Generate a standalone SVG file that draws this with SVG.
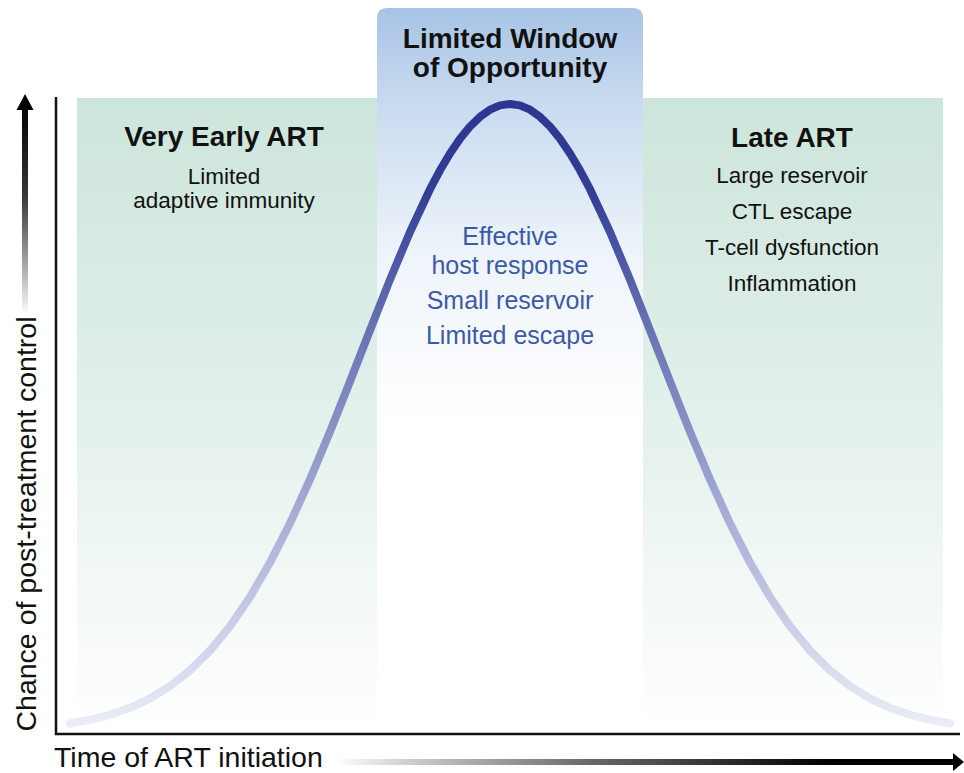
<svg xmlns="http://www.w3.org/2000/svg" width="964" height="773" viewBox="0 0 964 773">
  <defs>
    <linearGradient id="gGreen" x1="0" y1="98" x2="0" y2="731" gradientUnits="userSpaceOnUse">
      <stop offset="0" stop-color="#cce5db"/>
      <stop offset="0.5" stop-color="#e3f0eb"/>
      <stop offset="1" stop-color="#ffffff"/>
    </linearGradient>
    <linearGradient id="gBlue" x1="0" y1="8" x2="0" y2="420" gradientUnits="userSpaceOnUse">
      <stop offset="0" stop-color="#a7c3e5"/>
      <stop offset="0.25" stop-color="#cbdcf0"/>
      <stop offset="0.6" stop-color="#eef4fa"/>
      <stop offset="1" stop-color="#ffffff"/>
    </linearGradient>
    <linearGradient id="gCurve" x1="0" y1="100" x2="0" y2="730" gradientUnits="userSpaceOnUse">
      <stop offset="0" stop-color="#2b3690"/>
      <stop offset="0.15" stop-color="#323f96"/>
      <stop offset="0.35" stop-color="#6570b2"/>
      <stop offset="0.65" stop-color="#a5abd5"/>
      <stop offset="1" stop-color="#eceef7"/>
    </linearGradient>
    <linearGradient id="gYArrow" x1="0" y1="100" x2="0" y2="315" gradientUnits="userSpaceOnUse">
      <stop offset="0" stop-color="#000000"/>
      <stop offset="0.45" stop-color="#3a3735"/>
      <stop offset="0.8" stop-color="#b5b2b0"/>
      <stop offset="1" stop-color="#ffffff"/>
    </linearGradient>
    <linearGradient id="gXArrow" x1="335" y1="0" x2="955" y2="0" gradientUnits="userSpaceOnUse">
      <stop offset="0" stop-color="#ffffff"/>
      <stop offset="0.12" stop-color="#cfcccb"/>
      <stop offset="0.42" stop-color="#6a6562"/>
      <stop offset="0.8" stop-color="#000000"/>
      <stop offset="1" stop-color="#000000"/>
    </linearGradient>
    <style>
      .t { font-family: "Liberation Sans", Arial, Helvetica, sans-serif; fill: #111; text-anchor: middle; }
      .b { font-weight: bold; font-size: 28px; }
      .r { font-size: 22.5px; }
      .blue { fill: #3b5aa8; font-size: 25px; }
      .ax { font-family: "Liberation Sans", Arial, Helvetica, sans-serif; fill: #111; font-size: 28.5px; }
    </style>
  </defs>

  <rect width="964" height="773" fill="#ffffff"/>

  <g id="panel-early">
    <rect x="77" y="98" width="301" height="633" fill="url(#gGreen)"/>
    <text class="t b" x="224" y="146">Very Early ART</text>
    <text class="t r" x="224" y="184">Limited</text>
    <text class="t r" x="224" y="208">adaptive immunity</text>
  </g>

  <g id="panel-late">
    <rect x="642" y="98" width="301" height="633" fill="url(#gGreen)"/>
    <text class="t b" x="792" y="147">Late ART</text>
    <text class="t r" x="792" y="183">Large reservoir</text>
    <text class="t r" x="792" y="219">CTL escape</text>
    <text class="t r" x="792" y="255">T-cell dysfunction</text>
    <text class="t r" x="792" y="291">Inflammation</text>
  </g>

  <g id="panel-window">
    <path d="M377,731 L377,18 Q377,8 387,8 L633,8 Q643,8 643,18 L643,731 Z" fill="url(#gBlue)"/>
    <text class="t b" x="510" y="48">Limited Window</text>
    <text class="t b" x="510" y="77">of Opportunity</text>
  </g>

  <g id="curve">
    <path fill="none" stroke="url(#gCurve)" stroke-width="8" stroke-linejoin="round" stroke-linecap="round"
      d="M70,723.5 L90,719.8 L110,714.8 L130,707.8 L150,698.5 L170,686.2 L190,670.4 L210,650.6 L230,626.3 L250,597 L270,562.6 L290,523.3 L310,479.4 L330,431.7 L350,381.4 L370,330.2 L390,279.6 L410,232 L430,189.2 L440,170.3 L450,153.5 L460,138.8 L470,126.5 L480,116.8 L490,109.7 L500,105.4 L510,104 L520,105.4 L530,109.7 L540,116.8 L550,126.5 L560,138.8 L570,153.5 L580,170.3 L590,189.2 L610,232 L630,279.6 L650,330.2 L670,381.4 L690,431.7 L710,479.4 L730,523.3 L750,562.6 L770,597 L790,626.3 L810,650.6 L830,670.4 L850,686.2 L870,698.5 L890,707.8 L910,714.8 L930,719.8 L950,723.5"/>
    <text class="t blue" x="510" y="245">Effective</text>
    <text class="t blue" x="510" y="274">host response</text>
    <text class="t blue" x="510" y="309">Small reservoir</text>
    <text class="t blue" x="510" y="344">Limited escape</text>
  </g>

  <g id="axes">
    <path d="M56,97 L56,734 L960,734" fill="none" stroke="#111" stroke-width="2.5"/>
    <rect x="22" y="108" width="6" height="207" fill="url(#gYArrow)"/>
    <polygon points="25,94 33.5,110 16.5,110" fill="#000"/>
    <rect x="335" y="759" width="620" height="6" fill="url(#gXArrow)"/>
    <polygon points="953,753 964,762 953,771" fill="#000"/>
    <text class="ax" x="54" y="767">Time of ART initiation</text>
    <text class="ax" text-anchor="middle" transform="translate(36,524) rotate(-90)">Chance of post-treatment control</text>
  </g>
</svg>
